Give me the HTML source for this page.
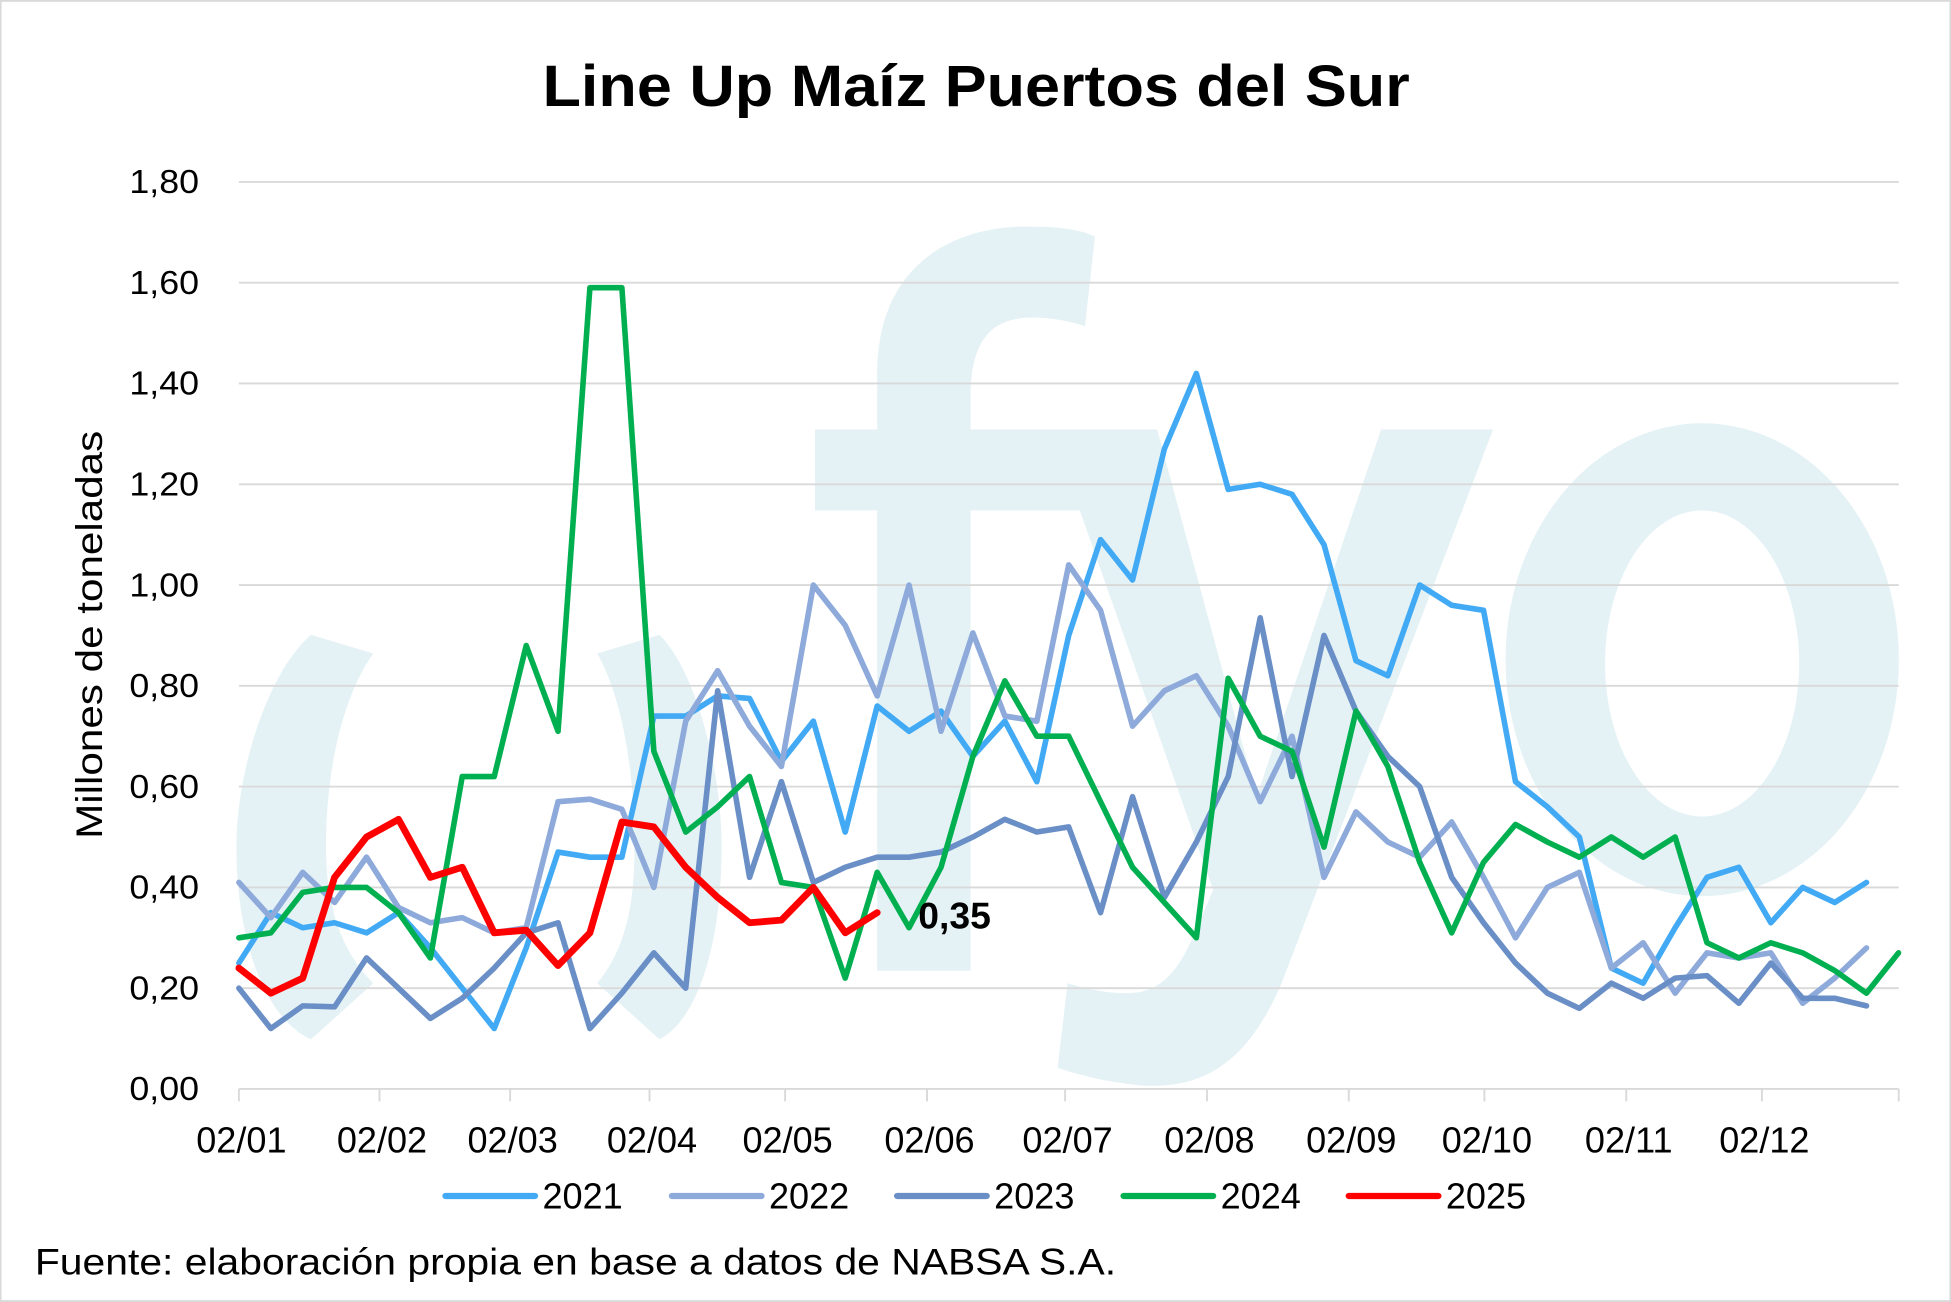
<!DOCTYPE html>
<html><head><meta charset="utf-8"><style>
html,body{margin:0;padding:0;background:#fff;}
svg{display:block;}
text{font-family:"Liberation Sans",sans-serif;}
</style></head><body>
<svg id="s" width="1951" height="1302" viewBox="0 0 1568 1046" xmlns="http://www.w3.org/2000/svg">
<rect x="0.5" y="0.5" width="1567" height="1045" fill="#fff" stroke="#d9d9d9" stroke-width="1.5"/>
<g fill="#e4f2f5">
  <path d="M1368 340 a158 190 0 1 0 0.1 0 Z M1368 410 a78 123 0 1 1 -0.1 0 Z" fill-rule="evenodd"/>
  <path d="M705 780 L705 410 L655 410 L655 345 L705 345 L705 300 C705 210 770 180 830 182 C855 182 870 185 880 190 L872 262 C860 258 845 255 830 255 C795 255 780 275 780 320 L780 345 L870 345 L870 410 L780 410 L780 780 Z"/>
  <path d="M845 345 L930 345 L1010 640 L1110 345 L1200 345 L1030 790 C1000 860 960 880 900 870 C880 867 862 862 850 858 L858 790 C875 795 890 798 905 798 C930 798 945 785 960 750 L975 715 Z"/>
  <path d="M250 510 C215 540 190 620 190 680 C190 760 215 820 250 835 L300 790 C270 760 262 720 262 680 C262 620 275 560 300 525 Z"/>
  <path d="M530 510 C560 540 580 620 580 680 C580 760 560 820 530 835 L480 790 C505 760 510 720 510 680 C510 620 500 560 480 525 Z"/>
</g>
<g id="grid" stroke="#d9d9d9" stroke-width="1.5"></g>
<g id="lab" font-size="27" fill="#000"></g>
<text x="436" y="85" font-size="47" font-weight="bold" textLength="697" lengthAdjust="spacingAndGlyphs">Line Up Maíz Puertos del Sur</text>
<text transform="translate(82,510) rotate(-90)" font-size="30" text-anchor="middle" textLength="328" lengthAdjust="spacingAndGlyphs">Millones de toneladas</text>
<g id="series" fill="none" stroke-linejoin="round" stroke-linecap="round"></g>
<text x="738" y="746" font-size="30" font-weight="bold">0,35</text>
<g font-size="29">
  <line x1="358" y1="961" x2="430" y2="961" stroke="#42aaf5" stroke-width="5" stroke-linecap="round"/><text x="436" y="971">2021</text>
  <line x1="540" y1="961" x2="612" y2="961" stroke="#8eaadb" stroke-width="5" stroke-linecap="round"/><text x="618" y="971">2022</text>
  <line x1="721" y1="961" x2="793" y2="961" stroke="#6a8fc7" stroke-width="5" stroke-linecap="round"/><text x="799" y="971">2023</text>
  <line x1="903" y1="961" x2="975" y2="961" stroke="#00b050" stroke-width="5" stroke-linecap="round"/><text x="981" y="971">2024</text>
  <line x1="1084" y1="961" x2="1156" y2="961" stroke="#ff0000" stroke-width="5" stroke-linecap="round"/><text x="1162" y="971">2025</text>
</g>
<text x="28" y="1024" font-size="30" textLength="869" lengthAdjust="spacingAndGlyphs">Fuente: elaboración propia en base a datos de NABSA S.A.</text>
</svg>
<script>
var NS="http://www.w3.org/2000/svg";
function el(p,t,a,txt){var e=document.createElementNS(NS,t);for(var k in a)e.setAttribute(k,a[k]);if(txt)e.textContent=txt;document.getElementById(p).appendChild(e);}
var x0=192,x1=1526,Y=function(v){return 875-v*405;};
for(var i=1;i<=9;i++){var y=Y(i*0.2);el("grid","line",{x1:x0,x2:x1,y1:y,y2:y});}
for(var i=0;i<=9;i++){el("lab","text",{x:160,y:Y(i*0.2)+9,"text-anchor":"end",textLength:56,lengthAdjust:"spacingAndGlyphs"},(i*0.2).toFixed(2).replace(".",","));}
el("grid","line",{x1:x0,x2:x1,y1:875,y2:875});
var mx=[192,305,410,522,631,745,856,970,1084,1193,1307,1416,1526];
var ml=["02/01","02/02","02/03","02/04","02/05","02/06","02/07","02/08","02/09","02/10","02/11","02/12"];
mx.forEach(function(x,i){el("grid","line",{x1:x,x2:x,y1:875,y2:885});if(i<12)el("lab","text",{x:x+2,y:926,"text-anchor":"middle","font-size":29},ml[i]);});
var dx=25.65;
var S=[
["#42aaf5",4.5,[0.25,0.35,0.32,0.33,0.31,0.35,0.28,0.20,0.12,0.28,0.47,0.46,0.46,0.74,0.74,0.78,0.775,0.65,0.73,0.51,0.76,0.71,0.75,0.66,0.73,0.61,0.90,1.09,1.01,1.27,1.42,1.19,1.20,1.18,1.08,0.85,0.82,1.00,0.96,0.95,0.61,0.56,0.50,0.24,0.21,0.32,0.42,0.44,0.33,0.40,0.37,0.41]],
["#8eaadb",4.5,[0.41,0.34,0.43,0.37,0.46,0.36,0.33,0.34,0.31,0.32,0.57,0.575,0.555,0.40,0.73,0.83,0.72,0.64,1.00,0.92,0.78,1.00,0.71,0.905,0.74,0.73,1.04,0.95,0.72,0.79,0.82,0.72,0.57,0.70,0.42,0.55,0.49,0.46,0.53,0.42,0.30,0.40,0.43,0.24,0.29,0.19,0.27,0.26,0.27,0.17,0.22,0.28]],
["#6a8fc7",4.5,[0.20,0.12,0.165,0.163,0.26,0.20,0.14,0.18,0.24,0.31,0.33,0.12,0.19,0.27,0.20,0.79,0.42,0.61,0.41,0.44,0.46,0.46,0.47,0.50,0.535,0.51,0.52,0.35,0.58,0.38,0.49,0.62,0.935,0.62,0.90,0.75,0.66,0.60,0.42,0.33,0.25,0.19,0.16,0.21,0.18,0.22,0.225,0.17,0.25,0.18,0.18,0.165]],
["#00b050",4.5,[0.30,0.31,0.39,0.40,0.40,0.35,0.26,0.62,0.62,0.88,0.71,1.59,1.59,0.67,0.51,0.56,0.62,0.41,0.40,0.22,0.43,0.32,0.44,0.66,0.81,0.70,0.70,0.57,0.44,0.37,0.30,0.815,0.70,0.67,0.48,0.75,0.64,0.45,0.31,0.45,0.525,0.49,0.46,0.50,0.46,0.50,0.29,0.26,0.29,0.27,0.235,0.19,0.27]],
["#ff0000",5.5,[0.24,0.19,0.22,0.42,0.50,0.535,0.42,0.44,0.31,0.315,0.245,0.31,0.53,0.52,0.44,0.38,0.33,0.335,0.40,0.31,0.35]]
];
S.forEach(function(s){var pts=s[2].map(function(v,i){return (x0+i*dx).toFixed(1)+","+Y(v).toFixed(1);}).join(" ");el("series","polyline",{points:pts,stroke:s[0],"stroke-width":s[1]});});
</script>
</body></html>
